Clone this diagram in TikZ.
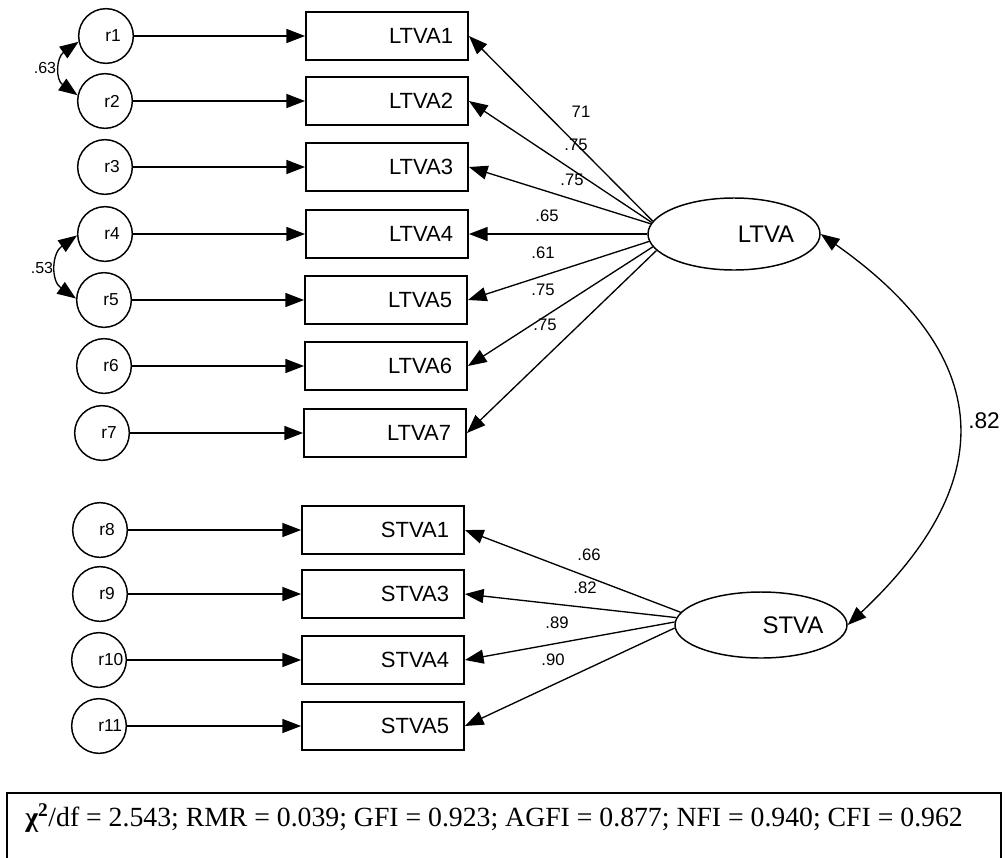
\documentclass[tikz,border=0pt]{standalone}
\usepackage{fontspec}
\setmainfont{Liberation Sans}
\newfontfamily\serifrm{Liberation Serif}
\usetikzlibrary{arrows.meta,shapes.geometric}
\begin{document}
\begin{tikzpicture}[x=0.75pt,y=-0.75pt,
  err/.style={circle,draw,line width=1.1pt,minimum size=41pt,inner sep=0pt},
  errtxt/.style={anchor=west,inner sep=0pt,font=\fontsize{13}{15}\selectfont},
  obs/.style={rectangle,draw,line width=1.4pt,minimum width=121.5pt,minimum height=36pt,
     text width=99pt,align=right,inner xsep=11.25pt,font=\fontsize{16.5}{18}\selectfont},
  lat/.style={ellipse,draw,line width=1.1pt,minimum width=129pt,inner sep=0pt},
  lattxt/.style={inner sep=0pt,font=\fontsize{18}{20}\selectfont},
  arr/.style={-{Triangle[length=14pt,width=10.5pt]},line width=1pt},
  dbl/.style={{Triangle[length=14pt,width=10.5pt]}-{Triangle[length=14pt,width=10.5pt]},line width=1pt},
  lbl/.style={inner sep=0pt,font=\fontsize{12.5}{14}\selectfont},
  clbl/.style={inner sep=0pt,font=\fontsize{12}{13}\selectfont}
]
\useasboundingbox (0,0) rectangle (1006,857);

% error terms
\node[err] (r1) at (106,36) {};
\node[err] (r2) at (105,101) {};
\node[err] (r3) at (105,167) {};
\node[err] (r4) at (105,234) {};
\node[err] (r5) at (104,300) {};
\node[err] (r6) at (104,366) {};
\node[err] (r7) at (102,433) {};
\node[err] (r8) at (100,530) {};
\node[err] (r9) at (100,594) {};
\node[err] (r10) at (99,660) {};
\node[err] (r11) at (99,726) {};
\node[errtxt] (t1) at (105,36) {r1};
\node[errtxt] (t2) at (104,101) {r2};
\node[errtxt] (t3) at (104,167) {r3};
\node[errtxt] (t4) at (104,234) {r4};
\node[errtxt] (t5) at (103,300) {r5};
\node[errtxt] (t6) at (103,366) {r6};
\node[errtxt] (t7) at (101,433) {r7};
\node[errtxt] (t8) at (99,530) {r8};
\node[errtxt] (t9) at (99,594) {r9};
\node[errtxt] (t10) at (98,660) {r10};
\node[errtxt] (t11) at (98,726) {r11};

% observed variables
\node[obs] (LTVA1) at (387,36) {LTVA1};
\node[obs] (LTVA2) at (387,101) {LTVA2};
\node[obs] (LTVA3) at (387,167) {LTVA3};
\node[obs] (LTVA4) at (387,234) {LTVA4};
\node[obs] (LTVA5) at (386,300) {LTVA5};
\node[obs] (LTVA6) at (386,366) {LTVA6};
\node[obs] (LTVA7) at (385,433) {LTVA7};
\node[obs] (STVA1) at (383,530) {STVA1};
\node[obs] (STVA3) at (383,594) {STVA3};
\node[obs] (STVA4) at (383,660) {STVA4};
\node[obs] (STVA5) at (383,726) {STVA5};

% latent variables
\node[lat,minimum height=54pt] (LTVA) at (734,234) {};
\node[lat,minimum height=49.5pt] (STVA) at (761,625) {};
\node[lattxt] (LTVAt) at (766,234) {LTVA};
\node[lattxt] (STVAt) at (793,625) {STVA};

% error arrows
\foreach \i/\b in {1/LTVA1,2/LTVA2,3/LTVA3,4/LTVA4,5/LTVA5,6/LTVA6,7/LTVA7,8/STVA1,9/STVA3,10/STVA4,11/STVA5}
  \draw[arr] (r\i.east) -- (\b.west);

% loadings
\draw[arr] (LTVA.171) -- (LTVA1.east);
\draw[arr] (LTVA.172) -- (LTVA2.east);
\draw[arr] (LTVA.173) -- (LTVA3.east);
\draw[arr] (LTVA.180) -- (LTVA4.east);
\draw[arr] (LTVA.185) -- (LTVA5.east);
\draw[arr] (LTVA.189) -- (LTVA6.east);
\draw[arr] (LTVA.192) -- (LTVA7.east);
\draw[arr] (STVA.171) -- (STVA1.east);
\draw[arr] (STVA.175) -- (STVA3.east);
\draw[arr] (STVA.178) -- (STVA4.east);
\draw[arr] (STVA.182) -- (STVA5.east);

\node[lbl] (l1) at (581,112) {71};
\node[lbl] (l2) at (576,145) {.75};
\node[lbl] (l3) at (572,180) {.75};
\node[lbl] (l4) at (547,216) {.65};
\node[lbl] (l5) at (543,253) {.61};
\node[lbl] (l6) at (543,290) {.75};
\node[lbl] (l7) at (545,325) {.75};
\node[lbl] (s1) at (589,555) {.66};
\node[lbl] (s2) at (585,588) {.82};
\node[lbl] (s3) at (557,623) {.89};
\node[lbl] (s4) at (553,660) {.90};

% covariances
\draw[dbl] (r1.192) to[out=215,in=145,looseness=1.3] (r2.168);
\draw[dbl] (r4.183) to[out=215,in=145,looseness=1.25] (r5.177);
\node[clbl] (c1) at (45,68) {.63};
\node[clbl] (c2) at (42,268) {.53};

\draw[dbl] (LTVA.east) .. controls (994,356) and (1002,480) .. (STVA.east);
\node[inner sep=0pt,font=\fontsize{17}{19}\selectfont] (c3) at (984,421) {.82};

% fit indices
\draw[line width=1.3pt] (7,860) -- (7,793) -- (1001,793) -- (1001,860);
\node[anchor=west,inner sep=0pt,font=\serifrm\fontsize{20.8}{22}\selectfont] (fit) at (25,818)
  {{\bfseries χ\textsuperscript{2}}/df = 2.543; RMR = 0.039; GFI = 0.923; AGFI = 0.877; NFI = 0.940; CFI = 0.962};
\end{tikzpicture}
\end{document}
